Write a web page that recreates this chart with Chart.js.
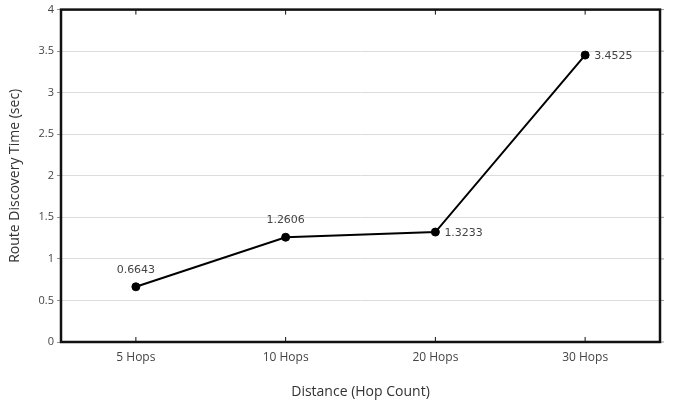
<!DOCTYPE html>
<html lang="en">
<head>
    <meta charset="UTF-8">
    <title>Route Discovery Time</title>
    <script src="https://cdn.jsdelivr.net/npm/chart.js"></script>
    <style>
        body {
            margin: 0;
            background-color: #ffffff;
        }
        #wrap {
            width: 676px;
            height: 404px;
            position: relative;
        }
    </style>
</head>
<body>
    <div id="wrap"><canvas id="hopChart"></canvas></div>

    <script>
        // data
        const hopLabels = ['5 Hops', '10 Hops', '20 Hops', '30 Hops'];
        const discoveryTimes = [0.6643, 1.2606, 1.3233, 3.4525];
        const valueLabels = ['0.6643', '1.2606', '1.3233', '3.4525'];
        const labelSide = ['top', 'top', 'right', 'right'];

        // frame, inward tick marks and value labels
        const framePlugin = {
            id: 'frame',
            afterDatasetsDraw(chart) {
                const c = chart.ctx;
                const a = chart.chartArea;
                const xs = chart.scales.x;
                const ys = chart.scales.y;
                c.save();
                c.strokeStyle = '#111';
                c.lineWidth = 1;
                // small ticks on top / bottom at category positions
                hopLabels.forEach((l, i) => {
                    const px = xs.getPixelForValue(i);
                    c.beginPath();
                    c.moveTo(px, a.top); c.lineTo(px, a.top + 5);
                    c.moveTo(px, a.bottom); c.lineTo(px, a.bottom - 5);
                    c.stroke();
                });
                // small ticks outside the right border
                c.strokeStyle = '#999';
                for (let v = 0; v <= 4; v += 0.5) {
                    const py = ys.getPixelForValue(v);
                    c.beginPath();
                    c.moveTo(a.right, py); c.lineTo(a.right + 4, py);
                    c.stroke();
                }
                c.strokeStyle = '#111';
                c.lineWidth = 2.5;
                c.strokeRect(a.left, a.top, a.right - a.left, a.bottom - a.top);

                // value labels
                c.font = '11px "DejaVu Sans"';
                c.fillStyle = '#444';
                const meta = chart.getDatasetMeta(0);
                meta.data.forEach((pt, i) => {
                    if (labelSide[i] === 'top') {
                        c.textAlign = 'center';
                        c.textBaseline = 'middle';
                        c.fillText(valueLabels[i], pt.x, pt.y - 17);
                    } else {
                        c.textAlign = 'left';
                        c.textBaseline = 'middle';
                        c.fillText(valueLabels[i], pt.x + 9, pt.y + 1);
                    }
                });
                c.restore();
            }
        };

        const ctx = document.getElementById('hopChart').getContext('2d');
        const hopChart = new Chart(ctx, {
            type: 'line',
            data: {
                labels: hopLabels,
                datasets: [{
                    data: discoveryTimes,
                    borderColor: '#000',
                    backgroundColor: '#000',
                    borderWidth: 2,
                    pointRadius: 4,
                    pointBorderWidth: 1,
                    pointBackgroundColor: '#000',
                    pointBorderColor: '#000',
                    tension: 0,
                    fill: false
                }]
            },
            options: {
                responsive: true,
                maintainAspectRatio: false,
                animation: false,
                layout: { padding: { top: 7, right: 16, left: 7, bottom: 4 } },
                plugins: {
                    legend: { display: false },
                    tooltip: { enabled: false }
                },
                scales: {
                    x: {
                        offset: true,
                        grid: { display: false },
                        border: { display: false },
                        ticks: {
                            color: '#444',
                            font: { family: 'Open Sans', size: 12 },
                            padding: 0,
                            maxRotation: 0
                        },
                        title: {
                            display: true,
                            text: 'Distance (Hop Count)',
                            color: '#333',
                            font: { family: 'Open Sans', size: 14 },
                            padding: { top: 14, bottom: 0 }
                        },
                        afterFit(s) { s.height = 58; }
                    },
                    y: {
                        min: 0,
                        max: 4,
                        border: { display: false },
                        grid: {
                            color: '#dcdcdc',
                            lineWidth: 1,
                            drawTicks: true,
                            tickLength: 4,
                            tickColor: '#999'
                        },
                        ticks: {
                            stepSize: 0.5,
                            color: '#444',
                            font: { family: 'Open Sans', size: 11 },
                            padding: 3,
                            callback: (v) => String(v)
                        },
                        title: {
                            display: true,
                            text: 'Route Discovery Time (sec)',
                            color: '#333',
                            font: { family: 'Open Sans', size: 14 },
                            padding: { top: 0, bottom: 6 }
                        },
                        afterFit(s) { s.width = 54; }
                    }
                }
            },
            plugins: [framePlugin]
        });
    </script>
</body>
</html>
